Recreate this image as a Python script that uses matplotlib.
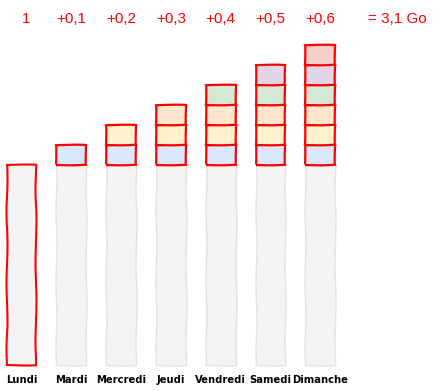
import matplotlib
matplotlib.use("Agg")
import matplotlib.pyplot as plt

days = ["Lundi", "Mardi", "Mercredi", "Jeudi", "Vendredi", "Samedi", "Dimanche"]
base = [1, 1, 1, 1, 1, 1, 1]
increment = 0.1
n_blocks = [0, 1, 2, 3, 4, 5, 6]
top_labels = ["1", "+0,1", "+0,2", "+0,3", "+0,4", "+0,5", "+0,6"]
total_label = "= 3,1 Go"
layer_colors = ["#dae8fc", "#fff2cc", "#ffe6cc", "#d5e8d4", "#e1d5e7", "#f8cecc"]

W, H = 442, 391
fig = plt.figure(figsize=(W / 100, H / 100), dpi=100)
ax = fig.add_axes([0, 0, 1, 1])
x0, dx = 21.5, 49.8
ax.set_xlim(-x0 / dx, (W - x0) / dx)
ax.set_ylim(-26 / 200, (H - 26) / 200)
ax.axis("off")

width = 0.6
for i, d in enumerate(days):
    if i == 0:
        b = ax.bar(i, base[i], width=width, color="#f4f4f4", edgecolor="#ff0000", linewidth=1.5)
    else:
        b = ax.bar(i, base[i], width=width, color="#f4f4f4", edgecolor="#e2e2e2", linewidth=1.0)
    for p in b:
        p.set_sketch_params(scale=0.5, length=90, randomness=3)
    for k in range(n_blocks[i]):
        bb = ax.bar(i, increment, bottom=base[i] + k * increment, width=width,
                    color=layer_colors[k], edgecolor="#ff0000", linewidth=1.6)
        for p in bb:
            p.set_sketch_params(scale=0.3, length=60, randomness=3)
    ax.text(i + 0.1 if i == 0 else i, 1.73, top_labels[i], color="#ff0000", fontsize=11,
            family="Liberation Sans", ha="center", va="center")
    ax.text(i, -0.075, d, color="black", fontsize=7.2, fontweight="bold",
            family="DejaVu Sans", ha="center", va="center")

ax.text(7.55, 1.73, total_label, color="#ff0000", fontsize=11,
        family="Liberation Sans", ha="center", va="center")

fig.savefig("out.png", dpi=100)
